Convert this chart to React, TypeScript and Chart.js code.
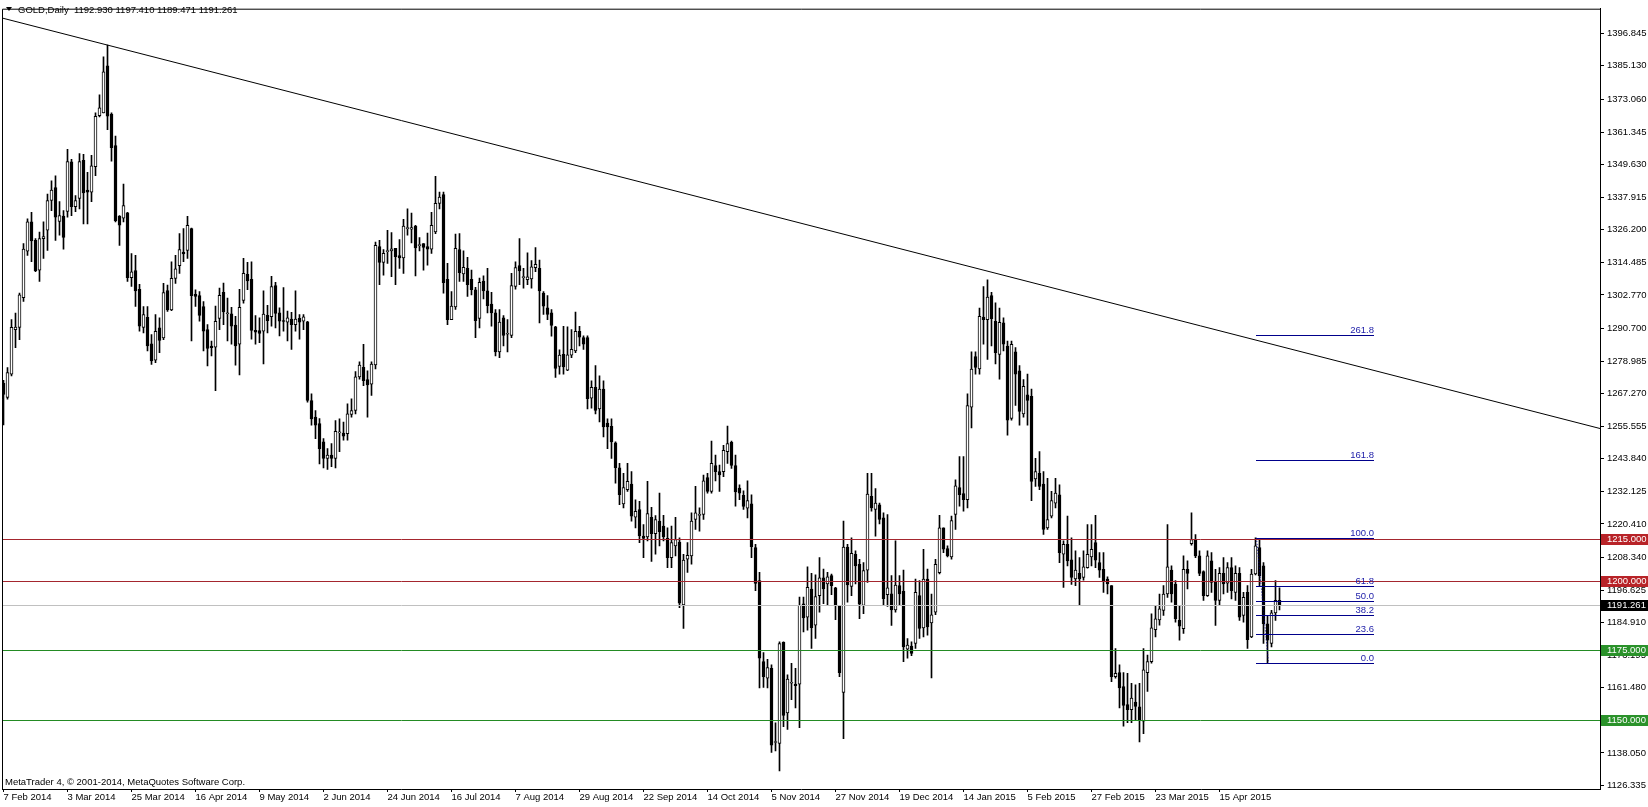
import React, { useEffect, useRef } from 'react';
import { Chart, registerables } from 'chart.js';

Chart.register(...registerables);

// ---------------- DATA ----------------
const symbolName = 'GOLD,Daily';

const opens = [
  1271.0, 1265.9, 1274.3, 1290.3, 1291.1, 1301.8, 1318.5, 1329.0, 1322.4, 1311.7,
  1323.0, 1326.0, 1336.7, 1341.4, 1329.2, 1331.1, 1332.8, 1350.6, 1334.5, 1337.5,
  1351.2, 1340.5, 1339.7, 1348.9, 1367.2, 1368.2, 1385.1, 1367.8, 1356.5, 1331.1,
  1330.4, 1332.3, 1309.0, 1311.5, 1304.8, 1291.1, 1294.7, 1285.2, 1279.3, 1290.9,
  1287.3, 1304.3, 1297.4, 1308.7, 1313.3, 1318.2, 1318.8, 1326.6, 1303.0, 1302.5,
  1298.6, 1290.3, 1284.4, 1284.0, 1294.3, 1303.7, 1296.0, 1296.0, 1291.9, 1285.0,
  1300.8, 1310.2, 1308.4, 1290.0, 1289.9, 1289.7, 1295.4, 1294.9, 1306.1, 1296.3,
  1293.3, 1293.0, 1294.1, 1292.1, 1294.3, 1293.3, 1293.1, 1264.8, 1258.8, 1256.5,
  1249.9, 1244.0, 1245.2, 1244.0, 1253.1, 1253.1, 1252.9, 1259.8, 1261.2, 1273.3,
  1276.7, 1272.3, 1270.7, 1277.6, 1320.1, 1314.4, 1318.3, 1318.6, 1319.5, 1316.9,
  1316.1, 1326.6, 1326.4, 1327.5, 1320.5, 1321.2, 1320.1, 1319.2, 1325.4, 1335.7,
  1338.8, 1308.4, 1293.9, 1298.4, 1319.1, 1310.3, 1312.3, 1308.4, 1304.6, 1294.3,
  1307.7, 1304.2, 1299.5, 1296.3, 1282.3, 1294.5, 1288.6, 1288.2, 1305.8, 1313.3,
  1309.0, 1308.2, 1308.5, 1312.6, 1312.3, 1303.4, 1298.1, 1296.3, 1291.3, 1277.0,
  1281.4, 1275.7, 1281.1, 1282.6, 1289.7, 1287.4, 1287.4, 1265.6, 1269.5, 1261.8,
  1268.9, 1256.7, 1255.5, 1249.6, 1240.6, 1227.6, 1232.7, 1234.7, 1222.8, 1225.6,
  1216.0, 1215.7, 1222.8, 1216.9, 1221.4, 1219.6, 1215.2, 1208.3, 1212.5, 1213.9,
  1191.3, 1207.7, 1208.9, 1222.0, 1223.5, 1223.8, 1237.1, 1232.1, 1241.4, 1239.2,
  1239.2, 1246.4, 1249.7, 1241.4, 1233.3, 1230.7, 1226.1, 1227.6, 1211.9, 1200.0,
  1170.9, 1164.9, 1168.5, 1141.8, 1141.5, 1177.8, 1152.4, 1163.1, 1162.8, 1162.8,
  1191.7, 1186.9, 1197.0, 1184.0, 1194.6, 1201.0, 1198.8, 1201.8, 1197.4, 1191.1,
  1159.8, 1212.1, 1197.9, 1209.5, 1205.9, 1191.1, 1203.8, 1230.3, 1225.6, 1227.3,
  1222.6, 1195.0, 1195.3, 1189.5, 1198.2, 1196.2, 1175.4, 1176.5, 1177.4, 1194.6,
  1183.0, 1200.6, 1184.8, 1188.7, 1202.9, 1219.0, 1211.5, 1208.5, 1223.8, 1233.5,
  1231.3, 1229.1, 1262.4, 1280.6, 1276.1, 1294.8, 1293.9, 1302.5, 1293.3, 1281.4,
  1292.7, 1284.4, 1258.3, 1282.3, 1275.5, 1260.0, 1266.8, 1266.3, 1236.6, 1238.6,
  1234.7, 1219.0, 1223.2, 1227.9, 1230.9, 1209.5, 1213.1, 1207.5, 1200.6, 1202.6,
  1201.2, 1204.7, 1208.5, 1213.7, 1206.5, 1204.1, 1200.6, 1198.2, 1165.5, 1166.9,
  1161.9, 1155.4, 1153.6, 1156.3, 1154.6, 1149.5, 1166.9, 1170.9, 1182.4, 1185.9,
  1189.3, 1195.2, 1203.8, 1198.8, 1185.7, 1182.7, 1204.1, 1213.3, 1214.5, 1208.9,
  1203.3, 1194.6, 1207.1, 1199.4, 1192.9, 1202.6, 1199.1, 1204.7, 1195.8, 1202.6,
  1187.5, 1195.8, 1179.8, 1202.4, 1211.9, 1205.3, 1184.5, 1177.4, 1188.4, 1192.93,
];

const highs = [
  1272.0, 1276.6, 1293.9, 1296.2, 1303.4, 1321.2, 1330.1, 1332.5, 1323.0, 1325.4,
  1329.0, 1339.0, 1343.8, 1345.6, 1336.3, 1333.1, 1355.1, 1351.5, 1338.5, 1353.6,
  1353.3, 1346.8, 1353.0, 1368.2, 1374.7, 1388.4, 1392.6, 1368.2, 1359.9, 1331.3,
  1342.6, 1332.5, 1317.6, 1317.0, 1306.6, 1298.6, 1298.6, 1288.5, 1295.7, 1294.5,
  1306.9, 1306.3, 1314.7, 1317.0, 1324.8, 1326.6, 1331.0, 1326.8, 1304.6, 1304.0,
  1300.4, 1292.1, 1286.2, 1298.7, 1305.2, 1307.0, 1301.6, 1298.3, 1295.1, 1304.8,
  1315.9, 1314.5, 1314.7, 1295.3, 1294.5, 1304.2, 1299.0, 1309.4, 1307.3, 1298.1,
  1305.4, 1296.9, 1296.5, 1304.2, 1295.7, 1295.7, 1293.3, 1267.2, 1261.2, 1258.3,
  1251.1, 1247.5, 1249.3, 1257.6, 1258.2, 1257.0, 1263.6, 1265.4, 1275.2, 1278.7,
  1285.0, 1275.5, 1278.7, 1321.8, 1322.4, 1319.1, 1326.0, 1325.2, 1319.5, 1322.7,
  1329.9, 1333.7, 1332.2, 1327.8, 1323.4, 1321.2, 1325.0, 1332.5, 1345.4, 1339.7,
  1339.7, 1314.1, 1304.0, 1324.6, 1324.8, 1318.6, 1316.3, 1311.7, 1305.5, 1308.8,
  1309.6, 1312.3, 1303.7, 1297.5, 1297.5, 1295.3, 1293.9, 1310.5, 1314.7, 1323.0,
  1312.3, 1317.9, 1315.1, 1319.8, 1315.3, 1304.0, 1302.5, 1297.5, 1291.5, 1283.0,
  1291.5, 1291.3, 1290.3, 1296.6, 1291.5, 1288.0, 1288.0, 1271.9, 1277.3, 1273.7,
  1271.9, 1258.2, 1258.2, 1249.9, 1242.2, 1238.6, 1242.2, 1239.2, 1229.1, 1228.5,
  1220.2, 1235.7, 1226.4, 1223.4, 1231.5, 1223.5, 1219.0, 1219.6, 1222.8, 1215.4,
  1209.5, 1213.7, 1224.4, 1233.9, 1226.2, 1238.0, 1238.6, 1250.2, 1245.2, 1241.6,
  1248.7, 1255.6, 1250.2, 1245.2, 1234.5, 1232.3, 1235.9, 1230.9, 1213.1, 1203.0,
  1174.1, 1171.7, 1169.7, 1148.9, 1178.0, 1178.0, 1166.1, 1170.3, 1168.5, 1194.1,
  1194.1, 1205.0, 1202.6, 1202.1, 1208.3, 1204.2, 1203.0, 1202.4, 1197.6, 1191.1,
  1221.4, 1213.1, 1215.4, 1210.7, 1207.7, 1206.5, 1238.6, 1238.6, 1233.1, 1227.9,
  1224.4, 1223.8, 1201.8, 1214.3, 1201.8, 1203.8, 1179.2, 1178.0, 1200.6, 1200.0,
  1211.3, 1204.2, 1195.2, 1207.7, 1223.5, 1219.0, 1212.5, 1223.2, 1236.3, 1244.6,
  1244.6, 1267.2, 1282.3, 1282.3, 1298.0, 1305.8, 1308.2, 1303.7, 1299.9, 1298.0,
  1294.5, 1286.2, 1286.2, 1283.8, 1277.3, 1272.3, 1274.3, 1268.9, 1244.0, 1246.4,
  1239.2, 1236.8, 1232.1, 1236.8, 1234.5, 1214.3, 1223.2, 1215.4, 1210.7, 1208.3,
  1210.7, 1220.2, 1220.2, 1223.5, 1210.1, 1210.1, 1201.4, 1198.2, 1175.6, 1169.7,
  1166.9, 1166.7, 1163.1, 1162.5, 1163.1, 1175.6, 1173.2, 1188.1, 1191.1, 1195.2,
  1198.2, 1220.2, 1205.3, 1200.0, 1191.1, 1208.9, 1207.1, 1224.4, 1216.6, 1210.7,
  1203.5, 1210.7, 1210.1, 1204.1, 1204.7, 1208.3, 1206.5, 1208.3, 1205.3, 1204.7,
  1195.8, 1198.2, 1204.1, 1215.4, 1214.8, 1206.5, 1187.5, 1189.3, 1200.0, 1197.41,
];

const lows = [
  1256.0, 1265.3, 1273.6, 1283.8, 1286.7, 1300.4, 1317.0, 1314.7, 1311.1, 1307.6,
  1315.9, 1318.8, 1333.1, 1322.4, 1324.2, 1319.2, 1330.7, 1331.3, 1332.7, 1333.7,
  1328.3, 1328.3, 1336.3, 1345.6, 1366.8, 1368.2, 1362.2, 1350.9, 1329.0, 1320.6,
  1329.0, 1307.6, 1305.8, 1298.6, 1289.7, 1289.1, 1282.6, 1277.8, 1278.4, 1282.0,
  1286.7, 1296.8, 1297.1, 1306.9, 1310.5, 1314.7, 1315.9, 1286.2, 1298.6, 1293.3,
  1282.6, 1277.2, 1280.8, 1268.3, 1290.3, 1292.1, 1286.2, 1285.0, 1277.5, 1274.0,
  1299.8, 1304.6, 1286.8, 1285.0, 1285.6, 1277.9, 1289.1, 1291.5, 1290.9, 1288.0,
  1289.7, 1286.2, 1283.2, 1289.7, 1286.8, 1290.3, 1264.2, 1255.9, 1251.1, 1242.0,
  1240.5, 1240.0, 1241.0, 1240.5, 1246.4, 1250.5, 1250.5, 1258.8, 1260.0, 1272.5,
  1270.1, 1258.8, 1266.6, 1276.1, 1306.4, 1309.9, 1314.1, 1309.3, 1306.4, 1312.3,
  1310.5, 1324.2, 1321.5, 1309.6, 1318.6, 1311.7, 1313.5, 1317.7, 1324.8, 1333.7,
  1303.4, 1292.1, 1293.9, 1297.5, 1307.6, 1307.6, 1302.2, 1302.8, 1287.4, 1290.9,
  1301.3, 1296.3, 1291.5, 1280.8, 1280.2, 1284.4, 1282.3, 1287.4, 1304.8, 1306.4,
  1305.2, 1306.4, 1305.2, 1311.1, 1292.7, 1295.7, 1293.9, 1287.9, 1273.1, 1274.3,
  1274.3, 1275.5, 1280.2, 1282.0, 1284.4, 1283.2, 1261.8, 1262.0, 1260.0, 1257.1,
  1251.7, 1247.5, 1244.0, 1235.1, 1227.3, 1226.2, 1232.1, 1221.4, 1219.0, 1213.7,
  1208.3, 1214.3, 1206.9, 1209.5, 1212.5, 1214.3, 1204.7, 1204.7, 1208.9, 1190.3,
  1182.8, 1203.0, 1205.9, 1218.4, 1217.8, 1222.0, 1231.5, 1231.5, 1235.9, 1232.1,
  1237.4, 1242.2, 1240.4, 1226.8, 1229.1, 1225.6, 1222.6, 1208.3, 1196.4, 1161.4,
  1161.6, 1161.4, 1138.2, 1138.8, 1131.6, 1147.5, 1146.5, 1157.2, 1154.2, 1147.1,
  1181.6, 1182.2, 1175.6, 1179.2, 1188.7, 1191.7, 1191.1, 1195.0, 1186.0, 1165.5,
  1143.2, 1192.3, 1194.6, 1198.8, 1186.3, 1188.1, 1199.4, 1225.0, 1216.0, 1220.4,
  1191.1, 1190.7, 1183.9, 1188.7, 1191.1, 1170.9, 1172.1, 1173.0, 1175.6, 1179.2,
  1179.8, 1180.4, 1165.0, 1187.8, 1202.4, 1210.1, 1208.5, 1207.7, 1218.4, 1226.8,
  1225.0, 1226.2, 1254.9, 1274.3, 1274.3, 1285.0, 1279.6, 1284.4, 1277.9, 1272.5,
  1282.6, 1252.3, 1257.7, 1263.0, 1255.9, 1258.8, 1255.9, 1228.8, 1233.9, 1232.7,
  1216.6, 1218.4, 1222.6, 1226.2, 1206.5, 1197.6, 1205.3, 1198.6, 1198.2, 1191.1,
  1200.2, 1204.5, 1205.3, 1204.7, 1201.2, 1195.8, 1195.2, 1163.7, 1164.9, 1154.2,
  1147.7, 1148.9, 1148.9, 1150.0, 1142.0, 1145.0, 1160.2, 1170.3, 1179.8, 1184.0,
  1187.5, 1194.0, 1192.3, 1185.1, 1178.6, 1181.0, 1197.0, 1212.8, 1208.3, 1201.8,
  1192.9, 1194.3, 1195.8, 1183.9, 1191.1, 1195.2, 1195.8, 1193.4, 1192.9, 1185.7,
  1185.1, 1175.6, 1179.5, 1202.1, 1198.2, 1177.4, 1170.3, 1176.2, 1185.7, 1189.471,
];

const closes = [
  1267.0, 1274.8, 1291.1, 1291.2, 1302.8, 1319.2, 1329.0, 1322.2, 1311.5, 1323.0,
  1323.7, 1336.7, 1340.5, 1330.7, 1331.3, 1323.4, 1350.7, 1334.5, 1336.7, 1350.7,
  1339.4, 1339.7, 1349.2, 1367.0, 1370.0, 1383.0, 1367.0, 1355.7, 1329.5, 1327.8,
  1334.9, 1309.0, 1311.1, 1304.2, 1291.5, 1295.7, 1284.4, 1279.0, 1289.7, 1286.4,
  1303.6, 1297.4, 1308.7, 1312.1, 1319.1, 1317.5, 1327.8, 1302.5, 1302.2, 1295.4,
  1289.7, 1283.5, 1283.8, 1293.3, 1302.6, 1296.6, 1296.1, 1291.5, 1284.4, 1298.3,
  1310.5, 1307.8, 1290.0, 1289.4, 1288.9, 1295.9, 1293.5, 1305.8, 1296.1, 1293.3,
  1293.2, 1294.5, 1292.1, 1294.1, 1293.0, 1294.9, 1264.8, 1258.2, 1255.9, 1247.5,
  1244.0, 1245.2, 1244.0, 1253.7, 1253.5, 1252.0, 1260.0, 1261.2, 1273.3, 1277.5,
  1271.9, 1270.4, 1277.9, 1320.6, 1314.4, 1317.7, 1318.3, 1319.3, 1316.5, 1316.1,
  1327.5, 1326.6, 1327.0, 1319.7, 1320.5, 1319.8, 1319.2, 1327.8, 1335.7, 1337.9,
  1307.2, 1293.9, 1298.7, 1319.5, 1310.8, 1312.7, 1306.4, 1304.6, 1293.5, 1307.3,
  1304.2, 1298.9, 1296.3, 1282.3, 1293.0, 1288.2, 1288.6, 1306.1, 1312.6, 1311.4,
  1309.0, 1309.3, 1312.9, 1313.8, 1304.2, 1298.7, 1295.7, 1291.8, 1276.3, 1281.1,
  1276.9, 1281.2, 1283.2, 1289.7, 1287.6, 1285.0, 1265.4, 1269.5, 1261.2, 1268.9,
  1255.3, 1255.3, 1249.9, 1240.6, 1230.9, 1233.5, 1235.7, 1223.2, 1224.9, 1216.1,
  1215.2, 1224.1, 1216.9, 1222.0, 1217.6, 1215.7, 1208.3, 1213.7, 1214.8, 1191.9,
  1207.4, 1209.1, 1221.4, 1224.4, 1223.5, 1235.9, 1232.1, 1242.2, 1239.2, 1238.0,
  1246.9, 1249.3, 1241.4, 1231.9, 1231.5, 1226.7, 1228.8, 1212.2, 1199.0, 1172.1,
  1165.5, 1168.7, 1140.8, 1141.8, 1177.4, 1151.5, 1164.6, 1163.1, 1162.2, 1191.1,
  1186.6, 1197.6, 1183.1, 1194.3, 1201.0, 1197.0, 1201.4, 1198.2, 1191.1, 1166.9,
  1212.1, 1198.5, 1209.8, 1205.3, 1191.5, 1203.6, 1231.1, 1226.2, 1227.9, 1222.0,
  1193.5, 1197.4, 1189.5, 1198.4, 1195.2, 1176.2, 1176.8, 1173.8, 1195.8, 1182.8,
  1200.6, 1183.4, 1187.7, 1205.9, 1219.0, 1211.3, 1208.9, 1221.6, 1234.1, 1230.9,
  1229.1, 1263.0, 1276.1, 1276.7, 1295.1, 1293.9, 1302.0, 1294.2, 1282.0, 1292.9,
  1285.0, 1257.7, 1285.0, 1274.3, 1260.9, 1269.9, 1264.8, 1235.7, 1239.2, 1233.9,
  1218.4, 1222.0, 1228.8, 1231.5, 1210.1, 1213.1, 1207.1, 1201.2, 1203.8, 1200.6,
  1205.0, 1209.5, 1211.3, 1207.4, 1203.8, 1200.0, 1198.8, 1165.5, 1166.7, 1161.4,
  1155.1, 1153.6, 1157.8, 1154.8, 1149.8, 1167.9, 1170.9, 1183.0, 1186.3, 1189.9,
  1195.2, 1205.0, 1195.2, 1186.3, 1183.6, 1204.1, 1202.6, 1214.8, 1208.9, 1202.6,
  1194.6, 1208.9, 1199.4, 1192.9, 1202.6, 1198.8, 1204.7, 1196.4, 1202.6, 1186.9,
  1194.0, 1178.8, 1202.4, 1212.5, 1201.8, 1184.5, 1178.6, 1188.4, 1192.9, 1191.261,
];

// date labels on the time axis (bar index -> label)
const xTickBars = [0, 16, 32, 48, 64, 80, 96, 112, 128, 144, 160, 176, 192, 208, 224, 240, 256, 272, 288, 304];
const xTickLabels = [
  '7 Feb 2014', '3 Mar 2014', '25 Mar 2014', '16 Apr 2014', '9 May 2014', '2 Jun 2014',
  '24 Jun 2014', '16 Jul 2014', '7 Aug 2014', '29 Aug 2014', '22 Sep 2014', '14 Oct 2014',
  '5 Nov 2014', '27 Nov 2014', '19 Dec 2014', '14 Jan 2015', '5 Feb 2015', '27 Feb 2015',
  '23 Mar 2015', '15 Apr 2015',
];

// price axis ticks
const yTickValues = [
  1396.845, 1385.130, 1373.060, 1361.345, 1349.630, 1337.915, 1326.200, 1314.485,
  1302.770, 1290.700, 1278.985, 1267.270, 1255.555, 1243.840, 1232.125, 1220.410,
  1208.340, 1196.625, 1184.910, 1173.195, 1161.480, 1149.765, 1138.050, 1126.335,
];

// horizontal levels
const resistanceLevels = [1215, 1200];
const supportLevels = [1175, 1150];

// trend line anchors (bar index, price)
const trendBars = [26, 246];
const trendPrices = [1392.6, 1311.3];

// fibonacci retracement
const fibBars = [313, 316];
const fibPrices = [1215.4, 1170.3];
const fibEndBar = 342.6;
const fibLevels = [0, 23.6, 38.2, 50.0, 61.8, 100.0, 161.8, 261.8];

// visible ranges
const xMin = -0.375;
const xMax = 399.125;
const yMin = 1125.07;
const yMax = 1405.69;

// ---------------- STYLE ----------------
const FONT = "'Liberation Sans', Arial, sans-serif";
const FS = 9.5;
const RED_LINE = '#A4262E';
const RED_BOX = '#B82328';
const GREEN_LINE = '#238B23';
const GREEN_BOX = '#2A922A';
const FIB_COLOR = '#00008B';
const FIB_TEXT = '#1C1CA8';
const BID_LINE = '#C0C0C0';

const n = closes.length;
const wickData = closes.map((_, i) => ({ x: i, y: [lows[i], highs[i]] }));
const bodyData = closes.map((c, i) => ({ x: i, y: [opens[i], c] }));
const bodyFill = closes.map((c, i) => (c >= opens[i] ? '#ffffff' : '#000000'));

const overlayPlugin = {
  id: 'mt4overlay',
  beforeDraw(chart: any) {
    const { ctx, width, height } = chart;
    ctx.save();
    ctx.fillStyle = '#ffffff';
    ctx.fillRect(0, 0, width, height);
    ctx.restore();
  },
  afterDatasetsDraw(chart: any) {
    const { ctx, chartArea: a, scales } = chart;
    const xs = scales.x;
    const ys = scales.y;
    ctx.save();
    ctx.beginPath();
    ctx.rect(a.left, a.top, a.right - a.left, a.bottom - a.top);
    ctx.clip();

    const hline = (p: number, color: string, x0 = a.left, x1 = a.right) => {
      const py = Math.round(ys.getPixelForValue(p)) + 0.5;
      ctx.strokeStyle = color;
      ctx.lineWidth = 1;
      ctx.beginPath();
      ctx.moveTo(x0, py);
      ctx.lineTo(x1, py);
      ctx.stroke();
      return py;
    };

    // bid line
    hline(closes[n - 1], BID_LINE);
    resistanceLevels.forEach((p) => hline(p, RED_LINE));
    supportLevels.forEach((p) => hline(p, GREEN_LINE));

    // trend line (extended across chart)
    const m = (trendPrices[1] - trendPrices[0]) / (trendBars[1] - trendBars[0]);
    const pA = trendPrices[0] + m * (xs.min - trendBars[0]);
    const pB = trendPrices[0] + m * (xs.max - trendBars[0]);
    ctx.strokeStyle = '#000000';
    ctx.lineWidth = 1;
    ctx.beginPath();
    ctx.moveTo(xs.getPixelForValue(xs.min), ys.getPixelForValue(pA));
    ctx.lineTo(xs.getPixelForValue(xs.max), ys.getPixelForValue(pB));
    ctx.stroke();

    // fibonacci
    const fx0 = Math.round(xs.getPixelForValue(fibBars[0]));
    const fx1 = Math.round(xs.getPixelForValue(fibEndBar));
    ctx.font = `${FS}px ${FONT}`;
    ctx.textAlign = 'right';
    ctx.textBaseline = 'alphabetic';
    fibLevels.forEach((lv) => {
      const price = fibPrices[1] + (fibPrices[0] - fibPrices[1]) * (lv / 100);
      const py = hline(price, FIB_COLOR, fx0, fx1);
      ctx.fillStyle = FIB_TEXT;
      ctx.fillText(lv.toFixed(1), fx1, py - 3);
    });
    ctx.save();
    ctx.setLineDash([1, 2]);
    ctx.strokeStyle = FIB_COLOR;
    ctx.beginPath();
    ctx.moveTo(Math.round(xs.getPixelForValue(fibBars[0])) + 0.5, ys.getPixelForValue(fibPrices[0]));
    ctx.lineTo(Math.round(xs.getPixelForValue(fibBars[1])) + 0.5, ys.getPixelForValue(fibPrices[1]));
    ctx.stroke();
    ctx.restore();

    ctx.restore();
  },
  afterDraw(chart: any) {
    const { ctx, chartArea: a, scales } = chart;
    const ys = scales.y;
    ctx.save();
    // frame (left, top)
    ctx.strokeStyle = '#000000';
    ctx.lineWidth = 1;
    ctx.beginPath();
    ctx.moveTo(a.left + 0.5, a.bottom);
    ctx.lineTo(a.left + 0.5, a.top + 0.5);
    ctx.lineTo(a.right, a.top + 0.5);
    ctx.stroke();

    // header
    ctx.fillStyle = '#000000';
    ctx.beginPath();
    ctx.moveTo(6, 7);
    ctx.lineTo(12, 7);
    ctx.lineTo(9, 11);
    ctx.closePath();
    ctx.fill();
    ctx.font = `${FS}px ${FONT}`;
    ctx.textAlign = 'left';
    ctx.textBaseline = 'middle';
    const last = n - 1;
    const hdr = `${symbolName}  ${opens[last].toFixed(3)} ${highs[last].toFixed(3)} ${lows[last].toFixed(3)} ${closes[last].toFixed(3)}`;
    ctx.fillText(hdr, 18, 10);

    // footer
    ctx.fillText('MetaTrader 4, \u00A9 2001-2014, MetaQuotes Software Corp.', 5, 782);

    // price labels on axis
    const box = (p: number, bg: string) => {
      const py = Math.round(ys.getPixelForValue(p));
      ctx.fillStyle = bg;
      ctx.fillRect(a.right + 1, py - 5, chart.width - a.right - 1, 11);
      ctx.fillStyle = '#ffffff';
      ctx.fillText(p.toFixed(3), a.right + 7, py + 0.5);
    };
    resistanceLevels.forEach((p) => box(p, RED_BOX));
    supportLevels.forEach((p) => box(p, GREEN_BOX));
    box(closes[last], '#000000');
    ctx.restore();
  },
};

export default function App() {
  const ref = useRef<HTMLCanvasElement | null>(null);

  useEffect(() => {
    document.body.style.margin = '0';
    const canvas = ref.current;
    if (!canvas) return;
    const chart = new Chart(canvas, {
      type: 'bar',
      data: {
        datasets: [
          {
            label: 'bodies',
            data: bodyData as any,
            backgroundColor: bodyFill,
            borderColor: '#000000',
            borderWidth: 1,
            borderSkipped: false,
            barThickness: 3,
            minBarLength: 1,
            grouped: false,
            order: 0,
          } as any,
          {
            label: 'wicks',
            data: wickData as any,
            backgroundColor: '#000000',
            borderWidth: 0,
            barThickness: 1,
            grouped: false,
            order: 1,
          } as any,
        ],
      },
      options: {
        animation: false,
        responsive: false,
        devicePixelRatio: 1,
        events: [],
        layout: { padding: { left: 2, top: 2, right: 0, bottom: 0 } },
        plugins: { legend: { display: false }, tooltip: { enabled: false } },
        scales: {
          x: {
            type: 'linear',
            position: 'bottom',
            min: xMin,
            max: xMax,
            offset: false,
            afterBuildTicks: (s: any) => {
              s.ticks = xTickBars.map((v) => ({ value: v }));
            },
            afterFit: (s: any) => {
              s.height = 18;
            },
            ticks: {
              autoSkip: false,
              maxRotation: 0,
              minRotation: 0,
              align: 'start',
              padding: 0,
              color: '#000000',
              font: { family: FONT, size: FS },
              callback: (_v: any, i: number) => xTickLabels[i],
            },
            grid: { drawOnChartArea: false, drawTicks: true, tickLength: 3, color: '#000000', offset: false },
            border: { display: true, color: '#000000', width: 1 },
          } as any,
          y: {
            type: 'linear',
            position: 'right',
            min: yMin,
            max: yMax,
            afterBuildTicks: (s: any) => {
              s.ticks = yTickValues.map((v) => ({ value: v }));
            },
            afterFit: (s: any) => {
              s.width = 48;
            },
            ticks: {
              autoSkip: false,
              padding: 3,
              color: '#000000',
              font: { family: FONT, size: FS },
              callback: (v: any) => Number(v).toFixed(3),
            },
            grid: { drawOnChartArea: false, drawTicks: true, tickLength: 4, color: '#000000' },
            border: { display: true, color: '#000000', width: 1 },
          } as any,
        },
      },
      plugins: [overlayPlugin],
    } as any);
    return () => chart.destroy();
  }, []);

  return (
    <div style={{ position: 'absolute', left: 0, top: 0, width: 1648, height: 807, background: '#ffffff' }}>
      <canvas ref={ref} width={1648} height={807} style={{ display: 'block', width: 1648, height: 807 }} />
    </div>
  );
}
